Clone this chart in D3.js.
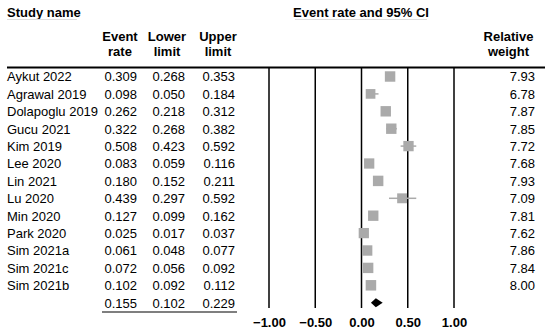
<!DOCTYPE html>
<html>
<head>
<meta charset="utf-8">
<script src="https://d3js.org/d3.v7.min.js"></script>
<style>
	body{ margin:0; background:#fff; }
	text{ font-family:"Liberation Sans", Arial, sans-serif; font-size:13px; fill:#000; }
	.bold{ font-weight:bold; }
</style>
</head>
<body>
<div id="chart"></div>
<script>
var studies = ["Aykut 2022","Agrawal 2019","Dolapoglu 2019","Gucu 2021","Kim 2019","Lee 2020","Lin 2021","Lu 2020","Min 2020","Park 2020","Sim 2021a","Sim 2021c","Sim 2021b"];
var event_rate = [0.309,0.098,0.262,0.322,0.508,0.083,0.180,0.439,0.127,0.025,0.061,0.072,0.102];
var lower_limit = [0.268,0.050,0.218,0.268,0.423,0.059,0.152,0.297,0.099,0.017,0.048,0.056,0.092];
var upper_limit = [0.353,0.184,0.312,0.382,0.592,0.116,0.211,0.592,0.162,0.037,0.077,0.092,0.112];
var rel_weight = [7.93,6.78,7.87,7.85,7.72,7.68,7.93,7.09,7.81,7.62,7.86,7.84,8.00];
var summary = [0.155,0.102,0.229];
var ticks = [-1,-0.5,0,0.5,1];

var w = 550, h = 335;
var svg = d3.select("#chart").append("svg").attr("width",w).attr("height",h);

/* forest plot scale */
var x = d3.scaleLinear().domain([-1,1]).range([269,454]);
var n = studies.length;
var y = d3.scaleLinear().domain([0,n]).range([76.5,76.5+17.4*n]);
var f3 = d3.format(".3f"), f2 = d3.format(".2f");

/* titles */
svg.append("text").attr("class","bold").attr("x",7).attr("y",17).text("Study name");
svg.append("line").attr("x1",7).attr("x2",77).attr("y1",19.5).attr("y2",19.5).attr("stroke","#ddd").attr("stroke-width",1);
svg.append("text").attr("class","bold").attr("x",361).attr("y",17).attr("text-anchor","middle").text("Event rate and 95% CI");
svg.append("line").attr("x1",295).attr("x2",427).attr("y1",19.5).attr("y2",19.5).attr("stroke","#ddd").attr("stroke-width",1);

var heads = [["Event","rate",120],["Lower","limit",167],["Upper","limit",218],["Relative","weight",508.5]];
heads.forEach(function(d){
	svg.append("text").attr("class","bold").attr("x",d[2]).attr("y",41).attr("text-anchor","middle").text(d[0]);
	svg.append("text").attr("class","bold").attr("x",d[2]).attr("y",56).attr("text-anchor","middle").text(d[1]);
});

/* header rule */
svg.append("line").attr("x1",7).attr("x2",545).attr("y1",67.5).attr("y2",67.5).attr("stroke","#000").attr("stroke-width",2);

/* vertical grid lines + ticks */
var axis = d3.axisBottom(x).tickValues(ticks).tickFormat(f2).tickSize(0).tickPadding(0);
var g = svg.append("g").attr("transform","translate(0,315)").call(axis);
g.select(".domain").remove();
g.selectAll("text").attr("class","bold").attr("dy","12px");
g.attr("font-family",null).attr("font-size",null);
svg.append("g").selectAll("line").data(ticks).enter().append("line")
	.attr("x1",function(d){return x(d);}).attr("x2",function(d){return x(d);})
	.attr("y1",68).attr("y2",308).attr("stroke","#000").attr("stroke-width",1.5);

/* table rows */
var rows = svg.append("g").selectAll("g").data(studies).enter().append("g")
	.attr("transform",function(d,i){return "translate(0,"+y(i)+")";});
rows.append("text").attr("x",7).attr("y",4.8).text(function(d){return d;});
rows.append("text").attr("x",137).attr("y",4.8).attr("text-anchor","end").text(function(d,i){return f3(event_rate[i]);});
rows.append("text").attr("x",185).attr("y",4.8).attr("text-anchor","end").text(function(d,i){return f3(lower_limit[i]);});
rows.append("text").attr("x",235).attr("y",4.8).attr("text-anchor","end").text(function(d,i){return f3(upper_limit[i]);});
rows.append("text").attr("x",535).attr("y",4.8).attr("text-anchor","end").text(function(d,i){return f2(rel_weight[i]);});

/* CI lines and squares */
rows.append("line")
	.attr("x1",function(d,i){return x(lower_limit[i]);}).attr("x2",function(d,i){return x(upper_limit[i]);})
	.attr("y1",0).attr("y2",0).attr("stroke","#aaa").attr("stroke-width",1.5);
var sz = d3.scaleSqrt().domain([0,8]).range([0,10.5]);
rows.append("rect").attr("fill","#aaa")
	.attr("x",function(d,i){return x(event_rate[i])-sz(rel_weight[i])/2;})
	.attr("y",function(d,i){return -sz(rel_weight[i])/2;})
	.attr("width",function(d,i){return sz(rel_weight[i]);})
	.attr("height",function(d,i){return sz(rel_weight[i]);});

/* summary row */
var sy = y(n);
summary.forEach(function(v,j){
	svg.append("text").attr("x",[137,185,235][j]).attr("y",sy+4.8).attr("text-anchor","end").text(f3(v));
});
svg.append("line").attr("x1",102).attr("x2",237).attr("y1",312).attr("y2",312).attr("stroke","#000").attr("stroke-width",1.2);
svg.append("path").attr("fill","#000")
	.attr("d","M"+x(summary[1])+","+sy+"L"+x(summary[0])+","+(sy-4.5)+"L"+x(summary[2])+","+sy+"L"+x(summary[0])+","+(sy+4.5)+"Z");
</script>
</body>
</html>
